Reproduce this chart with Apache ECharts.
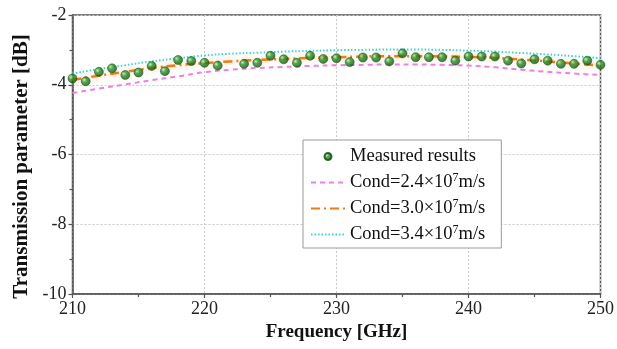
<!DOCTYPE html>
<html>
<head>
<meta charset="utf-8">
<script src="https://cdn.jsdelivr.net/npm/echarts@6/dist/echarts.min.js"></script>
<style>html,body{margin:0;padding:0;background:#fff}#c{width:617px;height:349px}</style>
</head>
<body>
<div id="c"></div>
<script>
// Measured points (1 GHz steps, 210..250); null = no marker visible
const measFreq = [210,211,212,213,214,215,216,217,218,219,220,221,222,223,224,225,226,227,228,229,230,231,232,233,234,235,236,237,238,239,240,241,242,243,244,245,246,247,248,249,250];
const measVals = [-3.82,-3.90,-3.63,-3.53,-3.72,-3.65,-3.46,-3.61,-3.29,-3.32,-3.37,-3.45,null,-3.40,-3.37,-3.17,-3.27,-3.37,-3.17,-3.26,-3.24,-3.35,-3.22,-3.22,-3.33,-3.10,-3.21,-3.21,-3.21,-3.31,-3.19,-3.19,-3.19,-3.31,-3.39,-3.27,-3.31,-3.40,-3.40,-3.31,-3.43];
// Simulated curves (2 GHz steps)
const simFreq = [210,212,214,216,218,220,222,224,226,228,230,232,234,236,238,240,242,244,246,248,250];
const cond24 = [-4.24,-4.11,-3.99,-3.87,-3.76,-3.64,-3.57,-3.52,-3.49,-3.46,-3.44,-3.43,-3.42,-3.42,-3.43,-3.45,-3.50,-3.57,-3.63,-3.68,-3.72];
const cond30 = [-3.86,-3.74,-3.63,-3.52,-3.44,-3.38,-3.33,-3.29,-3.26,-3.23,-3.21,-3.19,-3.18,-3.18,-3.19,-3.20,-3.23,-3.28,-3.33,-3.39,-3.45];
const cond34 = [-3.68,-3.55,-3.44,-3.33,-3.24,-3.16,-3.11,-3.08,-3.05,-3.03,-3.01,-3.00,-2.99,-2.99,-3.00,-3.02,-3.05,-3.09,-3.13,-3.18,-3.24];
const names = ['Measured results','Cond=2.4×10^7m/s','Cond=3.0×10^7m/s','Cond=3.4×10^7m/s'];

const pair = (xs, ys) => xs.map((x, i) => [x, ys[i]]);
const font = '"Liberation Serif","Times New Roman",serif';
const chart = echarts.init(document.getElementById('c'), null, {renderer: 'canvas'});
const sphere = {
  type: 'radial', x: 0.35, y: 0.35, r: 0.7,
  colorStops: [{offset: 0, color: '#c8f0b0'}, {offset: 0.35, color: '#2a9226'}, {offset: 1, color: '#0a520a'}]
};
chart.setOption({
  animation: false,
  grid: {left: 72.5, right: 14, top: 15, bottom: 55, show: true, borderColor: '#555', borderWidth: 1.5},
  legend: {
    orient: 'vertical', left: 303, top: 140,
    backgroundColor: '#fff', borderColor: '#999', borderWidth: 1,
    padding: [6, 16, 3, 7], itemGap: 5, itemWidth: 34, itemHeight: 7,
    data: [
      {name: names[0]},
      {name: names[1], itemStyle: {opacity: 0}},
      {name: names[2], itemStyle: {opacity: 0}},
      {name: names[3], itemStyle: {opacity: 0}}
    ],
    formatter: n => n.replace('^7', '{sup|7}'),
    textStyle: {fontFamily: font, fontSize: 18.5, color: '#111', lineHeight: 21,
      rich: {sup: {fontFamily: font, fontSize: 12, color: '#111', padding: [0, 0, 9, 0]}}}
  },
  xAxis: {
    type: 'value', min: 210, max: 250, interval: 10,
    name: 'Frequency [GHz]', nameLocation: 'middle', nameGap: 29,
    nameTextStyle: {fontFamily: font, fontSize: 19, fontWeight: 'bold', color: '#111'},
    axisLine: {onZero: false, lineStyle: {color: '#555', width: 1.5}},
    axisTick: {show: true, length: 4, lineStyle: {color: '#555', width: 1.2}},
    minorTick: {show: true, splitNumber: 2, length: 3, lineStyle: {color: '#555', width: 1.2}},
    axisLabel: {fontFamily: font, fontSize: 18, color: '#222', margin: 6},
    splitLine: {show: true, lineStyle: {color: '#c8c8c8', type: [2, 2], width: 1}}
  },
  yAxis: {
    type: 'value', min: -10, max: -2, interval: 2,
    name: 'Transmission parameter [dB]', nameLocation: 'middle', nameGap: 40,
    nameTextStyle: {fontFamily: font, fontSize: 21, fontWeight: 'bold', color: '#111', padding: [0, 24, 0, 0]},
    axisLine: {onZero: false, lineStyle: {color: '#555', width: 1.5}},
    axisTick: {show: true, length: 4, lineStyle: {color: '#555', width: 1.2}},
    minorTick: {show: true, splitNumber: 2, length: 3, lineStyle: {color: '#555', width: 1.2}},
    axisLabel: {fontFamily: font, fontSize: 18, color: '#222', margin: 6},
    splitLine: {show: true, lineStyle: {color: '#c8c8c8', type: [2, 2], width: 1}}
  },
  series: [
    {name: names[1], type: 'line', data: pair(simFreq, cond24), smooth: true, symbol: 'none', z: 2,
     lineStyle: {color: '#ee7fe8', width: 2, type: [5, 4]}, itemStyle: {color: '#ee7fe8'}},
    {name: names[3], type: 'line', data: pair(simFreq, cond34), smooth: true, symbol: 'none', z: 2,
     lineStyle: {color: '#35d8e0', width: 2, type: [1.5, 2]}, itemStyle: {color: '#35d8e0'}},
    {name: names[2], type: 'line', data: pair(simFreq, cond30), smooth: true, symbol: 'none', z: 3,
     lineStyle: {color: '#f07a18', width: 2.5, type: [9, 4, 2, 4], shadowColor: 'rgba(248,170,90,0.8)', shadowBlur: 6},
     itemStyle: {color: '#f07a18'}},
    {name: names[0], type: 'scatter', data: pair(measFreq, measVals), symbol: 'circle', symbolSize: 9, z: 5,
     itemStyle: {color: sphere, borderColor: '#0b4a0b', borderWidth: 0.6}}
  ]
});
</script>
</body>
</html>
